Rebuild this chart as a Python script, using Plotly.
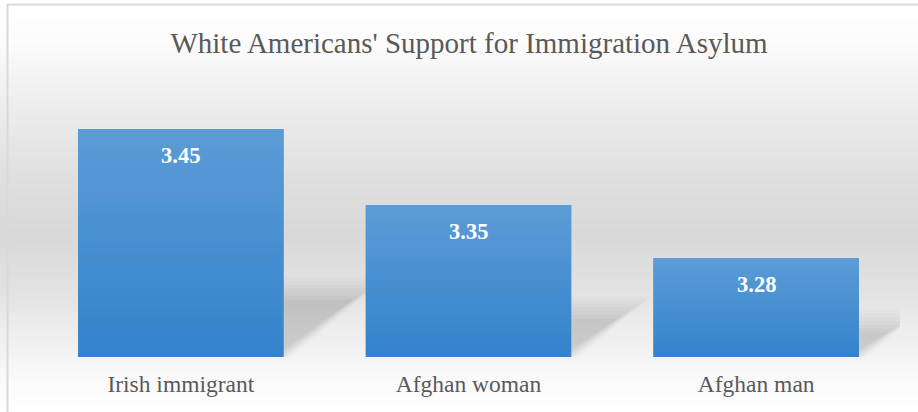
import plotly.graph_objects as go

categories = ["Irish immigrant", "Afghan woman", "Afghan man"]
values = [3.45, 3.35, 3.28]
title_text = "White Americans' Support for Immigration Asylum"

W, H = 918, 412
ML, MR, MT, MB = 37, 18, 91, 55
Y_MIN, Y_MAX = 3.15, 3.50
BAR_W = 0.714
PW = W - ML - MR
PH = H - MT - MB
SERIF = "Liberation Serif"


def px_x(px):
    return (px - ML) / PW


def px_y(py):
    return (H - MB - py) / PH


def mix(c1, c2, t):
    return "rgb({},{},{})".format(*[round(a + (b - a) * t) for a, b in zip(c1, c2)])


shapes = []

# vertical background gradient (white -> light grey -> white)
bg_stops = [(0, (255, 255, 255)), (40, (252, 252, 252)), (110, (236, 236, 236)),
            (190, (221, 221, 221)), (235, (217, 217, 217)), (290, (226, 226, 226)),
            (345, (241, 241, 241)), (375, (249, 249, 249)), (412, (255, 255, 255))]
step = 4
for y0 in range(0, H, step):
    yc = y0 + step / 2
    for (a, ca), (b, cb) in zip(bg_stops[:-1], bg_stops[1:]):
        if a <= yc <= b:
            col = mix(ca, cb, (yc - a) / (b - a))
            break
    shapes.append(dict(type="rect", xref="paper", yref="paper", layer="below",
                       x0=px_x(0), x1=px_x(W), y0=px_y(y0), y1=px_y(y0 + step + 0.5),
                       fillcolor=col, line=dict(width=0)))

# soft cast shadows to the right of each bar
for i, v in enumerate(values):
    h = v - Y_MIN
    xr = i + BAR_W / 2
    for grow, alpha in [(0.06, 0.025), (0.05, 0.03), (0.04, 0.035), (0.03, 0.04),
                        (0.02, 0.045), (0.01, 0.05), (0.0, 0.05)]:
        top = Y_MIN + 0.25 * h + grow * 0.5
        dx = 0.8 * h + grow * 2
        path = "M {x0},{b} L {x0},{t} L {x1},{t} Z".format(
            x0=xr, b=Y_MIN + 0.01 - grow * 0.3, t=top, x1=xr + dx)
        shapes.append(dict(type="path", xref="x", yref="y", layer="below", path=path,
                           fillcolor="rgba(90,90,90,{})".format(alpha), line=dict(width=0)))

# vertical gradient over each bar
top_c, bot_c = (92, 156, 214), (52, 130, 204)
n = 24
for i, v in enumerate(values):
    h = v - Y_MIN
    for k in range(n):
        y1 = v - h * k / n
        y0 = v - h * (k + 1) / n
        shapes.append(dict(type="rect", xref="x", yref="y", layer="above",
                           x0=i - BAR_W / 2, x1=i + BAR_W / 2, y0=y0,
                           y1=y1 + h / n * 0.1 if k else y1,
                           fillcolor=mix(top_c, bot_c, (k + 0.5) / n), line=dict(width=0)))

# frame lines along top and left edges
shapes.append(dict(type="line", xref="paper", yref="paper", layer="above",
                   x0=px_x(7.5), x1=px_x(7.5), y0=px_y(4), y1=px_y(H),
                   line=dict(color="#d9d9d9", width=2)))
shapes.append(dict(type="line", xref="paper", yref="paper", layer="above",
                   x0=px_x(7), x1=px_x(W), y0=px_y(4.5), y1=px_y(4.5),
                   line=dict(color="#d9d9d9", width=2)))

fig = go.Figure(go.Bar(
    x=categories, y=values, width=BAR_W,
    marker=dict(color="#4690d3", line=dict(width=0)),
    hoverinfo="x+y",
))

annotations = [dict(x=c, y=v, xref="x", yref="y", text="<b>{:.2f}</b>".format(v),
                    showarrow=False, yanchor="middle", yshift=-26,
                    font=dict(family=SERIF, size=22.5, color="white"))
               for c, v in zip(categories, values)]

fig.update_layout(
    width=W, height=H,
    margin=dict(l=ML, r=MR, t=MT, b=MB),
    font=dict(family=SERIF, color="#595959"),
    paper_bgcolor="white", plot_bgcolor="rgba(0,0,0,0)",
    title=dict(text=title_text, x=469 / W, xanchor="center", y=1 - 43 / H, yanchor="middle",
               xref="container", yref="container",
               font=dict(family=SERIF, size=29, color="#595959")),
    xaxis=dict(range=[-0.5, 2.5], showgrid=False, zeroline=False, showline=False, ticks="",
               ticklabelstandoff=10,
               tickfont=dict(family=SERIF, size=23.5, color="#595959")),
    yaxis=dict(range=[Y_MIN, Y_MAX], showgrid=False, zeroline=False, showline=False,
               showticklabels=False, ticks=""),
    shapes=shapes, annotations=annotations, showlegend=False,
)

fig.write_html("out.html")
